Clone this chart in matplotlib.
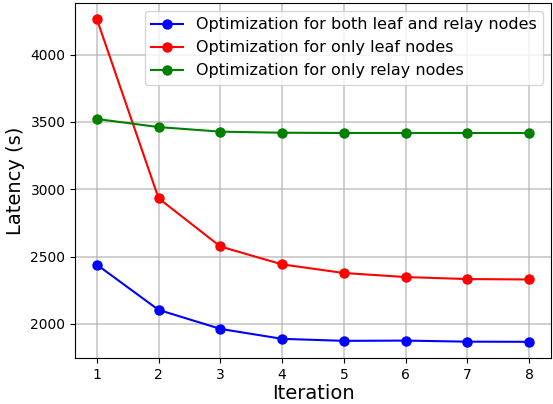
import matplotlib
matplotlib.use("Agg")
import matplotlib.pyplot as plt

# ── data ───────────────────────────────────────────────────────────────────
iterations = [1, 2, 3, 4, 5, 6, 7, 8]
lat_both   = [2440, 2104, 1963, 1889, 1874, 1876, 1868, 1867]
lat_leaf   = [4265, 2933, 2575, 2442, 2378, 2348, 2333, 2330]
lat_relay  = [3522, 3462, 3428, 3420, 3418, 3418, 3418, 3418]

labels = [
    "Optimization for both leaf and relay nodes",
    "Optimization for only leaf nodes",
    "Optimization for only relay nodes",
]

fig, ax = plt.subplots(figsize=(5.53, 4.04), dpi=100)
fig.subplots_adjust(left=0.136, right=0.996, bottom=0.114, top=0.993)

ax.plot(iterations, lat_both,  "o-", color="blue",  ms=6.5, label=labels[0])
ax.plot(iterations, lat_leaf,  "o-", color="red",   ms=6.5, label=labels[1])
ax.plot(iterations, lat_relay, "o-", color="green", ms=6.5, label=labels[2])

ax.set_xlabel("Iteration", fontsize=14, labelpad=2)
ax.set_ylabel("Latency (s)", fontsize=14)
ax.set_xticks(iterations)
ax.grid(True, linewidth=1.2, alpha=0.7)
ax.legend(loc="upper right", fontsize=11.5)

fig.savefig("out.png", dpi=100)
